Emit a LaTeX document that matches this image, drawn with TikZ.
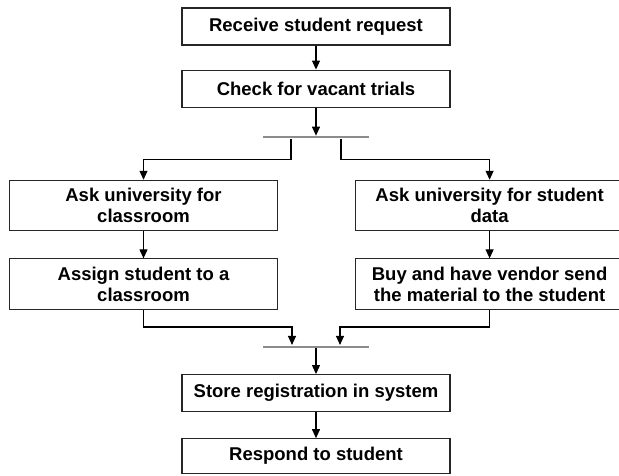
\documentclass[tikz,border=0pt]{standalone}
\usepackage{fontspec}
\setmainfont{Liberation Sans}
\usetikzlibrary{arrows.meta, positioning}

\begin{document}
\begin{tikzpicture}[node distance=26pt, line width=1.1pt, font=\fontsize{18.5}{21}\selectfont\bfseries,
    box/.style={draw=black!85, rectangle, minimum width=268pt, minimum height=37pt, inner sep=2pt, align=center},
    tallbox/.style={box, minimum height=50.5pt},
    bar/.style={rectangle, fill=black!45, minimum width=106pt, minimum height=2pt, inner sep=0pt},
    flow/.style={-{Triangle[length=9pt, width=8pt]}, black}]
    \useasboundingbox (0,0) rectangle (619pt,-475pt);
    % Main column
    \node[box] (receive) at (316pt,-26.5pt) {Receive student request};
    \node[box, below=24pt of receive] (check) {Check for vacant trials};
    \node[bar, below=28pt of check] (fork) {};
    \draw[flow] (check.south) -- (fork.north);

    % Left branch
    \node[tallbox, below=41pt of fork, xshift=-172.5pt] (askroom) {Ask university for\\classroom};
    \node[tallbox, below=27pt of askroom] (assign) {Assign student to a\\classroom};
    \draw[flow] ([xshift=-25pt]fork.south) -- ++(0,-21pt) -| (askroom.north);
    \draw[flow] (askroom.south) -- (assign.north);

    % Right branch
    \node[tallbox, right=77pt of askroom] (askdata) {Ask university for student\\data};
    \node[tallbox, below=27pt of askdata] (vendor) {Buy and have vendor send\\the material to the student};
    \draw[flow] ([xshift=25pt]fork.south) -- ++(0,-21pt) -| (askdata.north);
    \draw[flow] (askdata.south) -- (vendor.north);

    % Join
    \coordinate (mid) at (assign.south -| fork);
    \node[bar, below=35pt of mid] (join) {};
    \draw[flow] (assign.south) -- ++(0,-17pt) -| ([xshift=-24pt]join.north);
    \draw[flow] (vendor.south) -- ++(0,-17pt) -| ([xshift=24pt]join.north);

    \node[box, below=26pt of join] (store) {Store registration in system};
    \node[box, minimum height=35pt, below=26pt of store] (respond) {Respond to student};
    \draw[flow] (join.south) -- (store.north);
    \draw[flow] (store.south) -- (respond.north);
    \draw[flow] (receive.south) -- (check.north);
\end{tikzpicture}
\end{document}
